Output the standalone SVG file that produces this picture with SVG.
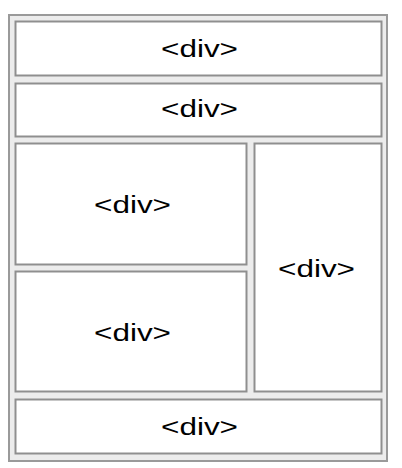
<svg xmlns="http://www.w3.org/2000/svg" width="402" height="468" viewBox="0 0 402 468">
<style>
.outer{fill:#ececec;stroke:#9a9a9a;stroke-width:2}
.box{fill:#ffffff;stroke:#8f8f8f;stroke-width:2}
.lbl{font-family:"Liberation Sans",Arial,sans-serif;font-size:23px;fill:#000;text-anchor:middle}
</style>
<rect width="402" height="468" fill="#ffffff"/>
<g id="container"><rect class="outer" x="9" y="15" width="378" height="446"/></g>
<g id="div1"><rect class="box" x="15.5" y="21.5" width="366" height="54"/><text class="lbl" x="199.5" y="57" textLength="77" lengthAdjust="spacingAndGlyphs">&lt;div&gt;</text></g>
<g id="div2"><rect class="box" x="15.5" y="83.5" width="366" height="53"/><text class="lbl" x="199.5" y="117" textLength="77" lengthAdjust="spacingAndGlyphs">&lt;div&gt;</text></g>
<g id="div3"><rect class="box" x="15.5" y="143.5" width="231" height="121"/><text class="lbl" x="132.5" y="213" textLength="77" lengthAdjust="spacingAndGlyphs">&lt;div&gt;</text></g>
<g id="div4"><rect class="box" x="15.5" y="271.5" width="231" height="120"/><text class="lbl" x="132.5" y="341" textLength="77" lengthAdjust="spacingAndGlyphs">&lt;div&gt;</text></g>
<g id="div5"><rect class="box" x="254.5" y="143.5" width="127" height="248"/><text class="lbl" x="316.5" y="277" textLength="77" lengthAdjust="spacingAndGlyphs">&lt;div&gt;</text></g>
<g id="div6"><rect class="box" x="15.5" y="399.5" width="366" height="54"/><text class="lbl" x="199.5" y="435" textLength="77" lengthAdjust="spacingAndGlyphs">&lt;div&gt;</text></g>
<g id="connectors"></g>
</svg>
